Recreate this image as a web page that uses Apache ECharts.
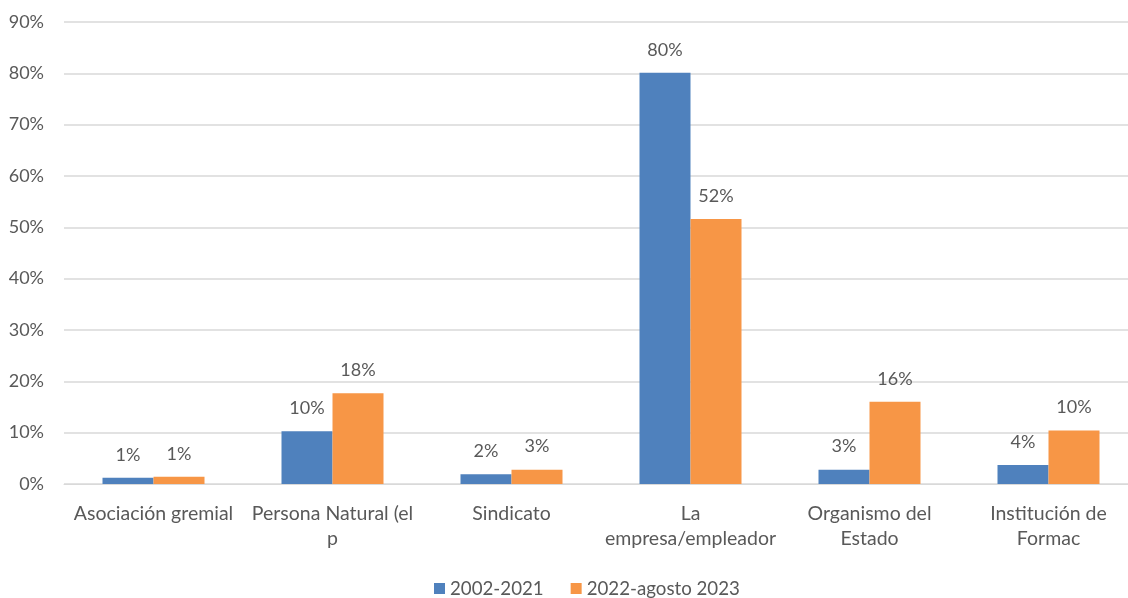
<!DOCTYPE html>
<html>
<head>
<meta charset="utf-8">
<script src="https://cdn.jsdelivr.net/npm/echarts@6/dist/echarts.min.js"></script>
<style>
  html, body { margin: 0; padding: 0; background: #fff; overflow: hidden; width: 1128px; height: 598px; }
  /* the plot runs a little past the right edge of the window */
  #chart { width: 1140px; height: 598px; }
</style>
</head>
<body>
<div id="chart"></div>
<script>
// Categories (axis labels as shown, wrapped onto two lines where needed)
const categories = [
  'Asociación gremial',
  'Persona Natural (el\np',
  'Sindicato',
  'La\nempresa/empleador',
  'Organismo del\nEstado',
  'Institución de\nFormac'
];
const seriesNames = ['2002-2021', '2022-agosto 2023'];
// Share of each category, in percent
const period1 = [1.2, 10.3, 1.9, 80.1, 2.8, 3.7];
const period2 = [1.4, 17.7, 2.8, 51.6, 16.0, 10.4];
const yTicks = { min: 0, max: 90, interval: 10 };

const textColor = '#595959';
const font = 'Lato, "Open Sans", sans-serif';

const chart = echarts.init(document.getElementById('chart'));

function barSeries(name, data, color) {
  return {
    name: name,
    type: 'bar',
    data: data,
    barWidth: 51,
    barGap: '0%',
    itemStyle: { color: color },
    label: {
      show: true,
      position: 'top',
      distance: 14,
      color: textColor,
      fontFamily: font,
      fontSize: 18,
      formatter: p => Math.round(p.value) + '%'
    }
  };
}

chart.setOption({
  animation: false,
  grid: { left: 64, right: 2, top: 22, bottom: 114, containLabel: false },
  legend: {
    top: 574,
    left: 429,
    itemWidth: 11,
    itemHeight: 11,
    itemGap: 27,
    icon: 'rect',
    textStyle: { color: textColor, fontFamily: font, fontSize: 18.7 },
    data: seriesNames
  },
  xAxis: {
    type: 'category',
    data: categories,
    axisLine: { show: true, lineStyle: { color: '#d9d9d9', width: 1 } },
    axisTick: { show: false },
    axisLabel: {
      color: textColor,
      fontFamily: font,
      fontSize: 19.5,
      lineHeight: 25,
      margin: 17,
      interval: 0
    }
  },
  yAxis: {
    type: 'value',
    min: yTicks.min,
    max: yTicks.max,
    interval: yTicks.interval,
    axisLine: { show: false },
    axisTick: { show: false },
    splitLine: { lineStyle: { color: '#d9d9d9', width: 1.5 } },
    axisLabel: {
      color: textColor,
      fontFamily: font,
      fontSize: 18,
      margin: 20,
      formatter: v => v + '%'
    }
  },
  series: [
    barSeries(seriesNames[0], period1, '#4f81bd'),
    barSeries(seriesNames[1], period2, '#f79646')
  ]
});
</script>
</body>
</html>
